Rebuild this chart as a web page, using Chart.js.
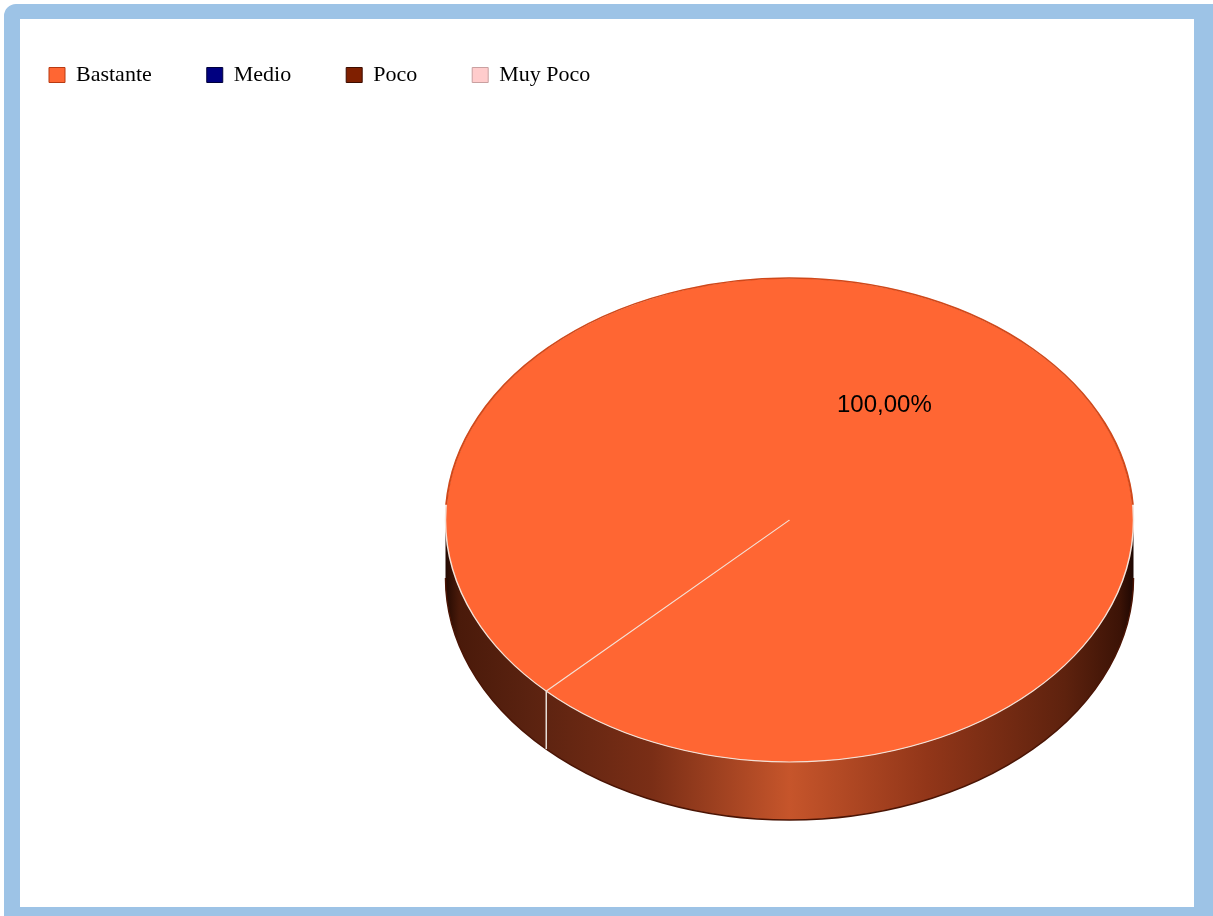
<!DOCTYPE html>
<html>
<head>
<meta charset="utf-8">
<script src="https://cdn.jsdelivr.net/npm/chart.js@4.4.1/dist/chart.umd.min.js"></script>
<style>
    html, body { margin: 0; padding: 0; background: #fff; overflow: hidden; width: 1213px; height: 916px; position: relative; }
    #marco {
        position: absolute; left: 4px; top: 4px; width: 1174px; height: 888px;
        border-style: solid; border-color: #9dc3e6; border-width: 15px 19px 9px 16px;
        border-top-left-radius: 12px;
    }
    /* lienzo más ancho que la ventana para dejar la torta corrida a la derecha */
    #grafico { position: absolute; left: -6px; top: 0; width: 1591px; height: 944px; }
</style>
</head>
<body>
<div id="marco"></div>
<div id="grafico"><canvas id="tortaOpinion"></canvas></div>
<script>
var etiquetas = ['Bastante', 'Medio', 'Poco', 'Muy Poco'];
var porcentajes = [100, 0, 0, 0];

// Torta "3D": lateral del cilindro + cara superior aplastada
var torta3D = {
    id: 'torta3D',
    beforeDatasetsDraw: function (chart, args, opts) {
        var ctx = chart.ctx;
        var arcos = chart.getDatasetMeta(0).data;
        var cx = arcos[0].x, cy = arcos[0].y, r = arcos[0].outerRadius;
        var ry = r * opts.escala;
        var h = opts.grosor;

        ctx.save();
        var grad = ctx.createLinearGradient(cx - r, 0, cx + r, 0);
        grad.addColorStop(0, '#240a02');
        grad.addColorStop(0.02, '#4a1a0a');
        grad.addColorStop(0.12, '#5a2210');
        grad.addColorStop(0.3, '#7a2e16');
        grad.addColorStop(0.5, '#c6552b');
        grad.addColorStop(0.7, '#923619');
        grad.addColorStop(0.9, '#5e220e');
        grad.addColorStop(0.98, '#3c1306');
        grad.addColorStop(1, '#1e0702');
        ctx.beginPath();
        ctx.ellipse(cx, cy, r, ry, 0, 0, Math.PI);
        ctx.lineTo(cx - r, cy + h);
        ctx.ellipse(cx, cy + h, r, ry, 0, Math.PI, 0, true);
        ctx.closePath();
        ctx.fillStyle = grad;
        ctx.fill();
        ctx.beginPath();
        ctx.ellipse(cx, cy + h, r, ry, 0, Math.PI, 0, true);
        ctx.strokeStyle = '#4a1404';
        ctx.lineWidth = 1.5;
        ctx.stroke();

        // corte vertical donde empieza cada porción visible
        arcos.forEach(function (arco) {
            if (arco.circumference <= 0) return;
            var a = arco.startAngle;
            if (Math.sin(a) <= 0) return;
            var x = cx + r * Math.cos(a);
            var y = cy + ry * Math.sin(a);
            ctx.beginPath();
            ctx.moveTo(x, y);
            ctx.lineTo(x, y + h);
            ctx.strokeStyle = '#e6ddd6';
            ctx.lineWidth = 1.5;
            ctx.stroke();
        });
        ctx.restore();

        // la cara superior se dibuja achatada en vertical
        ctx.save();
        ctx.translate(cx, cy);
        ctx.scale(1, opts.escala);
        ctx.translate(-cx, -cy);
    },
    afterDatasetsDraw: function (chart, args, opts) {
        var ctx = chart.ctx;
        var arcos = chart.getDatasetMeta(0).data;
        var cx = arcos[0].x, cy = arcos[0].y, r = arcos[0].outerRadius;

        // borde de atrás algo más oscuro
        ctx.beginPath();
        ctx.arc(cx, cy, r, Math.PI * 1.02, Math.PI * 1.98);
        ctx.strokeStyle = '#d0481a';
        ctx.lineWidth = 2;
        ctx.stroke();
        ctx.restore();

        // etiquetas de porcentaje
        var datos = chart.data.datasets[0].data;
        var total = datos.reduce(function (s, v) { return s + v; }, 0);
        ctx.save();
        ctx.font = '24px "Liberation Sans", Arial, sans-serif';
        ctx.fillStyle = '#000';
        ctx.textAlign = 'center';
        ctx.textBaseline = 'middle';
        arcos.forEach(function (arco, i) {
            if (!datos[i]) return;
            var medio = (arco.startAngle + arco.endAngle) / 2;
            var x = cx + Math.cos(medio) * r * 0.39;
            var y = cy + Math.sin(medio) * r * opts.escala * 0.67;
            var txt = (datos[i] / total * 100).toFixed(2).replace('.', ',') + '%';
            ctx.fillText(txt, x, y);
        });
        ctx.restore();
    }
};

var ctx = document.getElementById('tortaOpinion').getContext('2d');
new Chart(ctx, {
    type: 'pie',
    data: {
        labels: etiquetas,
        datasets: [{
            data: porcentajes,
            backgroundColor: ['#ff6633', '#000080', '#7f1f00', '#ffcccc'],
            borderColor: '#f4e2d8',
            borderWidth: 1.5
        }]
    },
    options: {
        responsive: true,
        maintainAspectRatio: false,
        animation: false,
        events: [],
        rotation: 225,
        radius: 344,
        layout: {
            padding: { left: 0, right: 0, top: 9, bottom: 0 }
        },
        plugins: {
            legend: {
                position: 'top',
                align: 'start',
                labels: {
                    color: '#000',
                    boxWidth: 16,
                    boxHeight: 15,
                    padding: 55,
                    font: { family: '"Liberation Serif", "Times New Roman", serif', size: 22 },
                    generateLabels: function (chart) {
                        var items = Chart.overrides.doughnut.plugins.legend.labels.generateLabels(chart);
                        var bordes = ['#b83a12', '#00003a', '#3c0c00', '#c9a0a0'];
                        items.forEach(function (it, i) {
                            it.strokeStyle = bordes[i];
                            it.lineWidth = 1;
                        });
                        return items;
                    }
                }
            },
            tooltip: { enabled: false },
            torta3D: { escala: 0.7035, grosor: 58 }
        }
    },
    plugins: [torta3D]
});
</script>
</body>
</html>
